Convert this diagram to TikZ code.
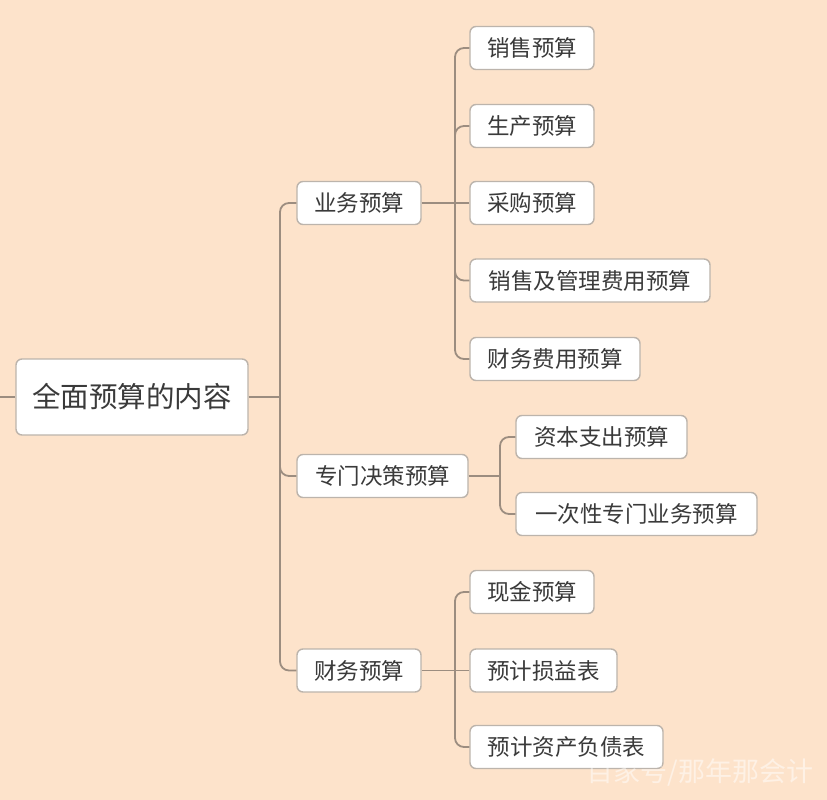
\documentclass[tikz,border=0pt]{standalone}
\usepackage{fontspec}
\setmainfont{Noto Sans CJK SC}
\begin{document}
\begin{tikzpicture}[x=1pt,y=-1pt,
  box/.style={draw=boxline, fill=white, rounded corners=6pt, line width=1.4pt,
    minimum height=43pt, inner sep=0pt, text=txt, font=\fontsize{22.5}{26}\selectfont},
  rootbox/.style={box, minimum height=76pt, font=\fontsize{28.5}{32}\selectfont},
  link/.style={draw=linkc, line width=1.8pt, rounded corners=9pt},
  stub/.style={draw=linkc, line width=1.8pt}]
\definecolor{bgc}{HTML}{FDE3CB}
\definecolor{boxline}{HTML}{BCB4AC}
\definecolor{linkc}{HTML}{9C8D80}
\definecolor{txt}{HTML}{3A3A3A}
\fill[bgc] (0,0) rectangle (827,800);
\useasboundingbox (0,0) rectangle (827,800);

% nodes
\node[rootbox, minimum width=232pt] (root) at (132,397) {全面预算的内容};
\node[box, minimum width=124pt] (yw) at (359,203) {业务预算};
\node[box, minimum width=171pt] (zm) at (382.5,476) {专门决策预算};
\node[box, minimum width=124pt] (cw) at (359,670.5) {财务预算};

\node[box, minimum width=124pt] (a1) at (532,48) {销售预算};
\node[box, minimum width=124pt] (a2) at (532,126) {生产预算};
\node[box, minimum width=124pt] (a3) at (532,203) {采购预算};
\node[box, minimum width=240pt] (a4) at (590,280.5) {销售及管理费用预算};
\node[box, minimum width=170pt] (a5) at (555,359) {财务费用预算};

\node[box, minimum width=171pt] (b1) at (601.5,437) {资本支出预算};
\node[box, minimum width=241pt] (b2) at (636.5,514) {一次性专门业务预算};

\node[box, minimum width=124pt] (c1) at (532,592) {现金预算};
\node[box, minimum width=147pt] (c2) at (543.5,670.5) {预计损益表};
\node[box, minimum width=193pt] (c3) at (566.5,747) {预计资产负债表};

% junction points
\coordinate (lstub) at (0,397);
\coordinate (j0) at (280,397);
\coordinate (j1) at (455,203);
\coordinate (j2) at (500,476);
\coordinate (j3) at (455,670.5);

% connectors
\path[stub] (lstub) -- (root.west);
\path[stub] (root.east) -- (j0);
\foreach \c in {yw,zm,cw}
  \path[link] (j0) |- (\c.west);

\path[stub] (yw.east) -- (a3.west);
\foreach \c in {a1,a2,a4,a5}
  \path[link] (j1) |- (\c.west);

\path[stub] (zm.east) -- (j2);
\foreach \c in {b1,b2}
  \path[link] (j2) |- (\c.west);

\path[stub] (cw.east) -- (c2.west);
\foreach \c in {c1,c3}
  \path[link] (j3) |- (\c.west);

% watermark
\node[text=white, opacity=0.5, font=\fontsize{27}{30}\selectfont] (wm) at (700,772) {百家号/那年那会计};
\end{tikzpicture}
\end{document}
